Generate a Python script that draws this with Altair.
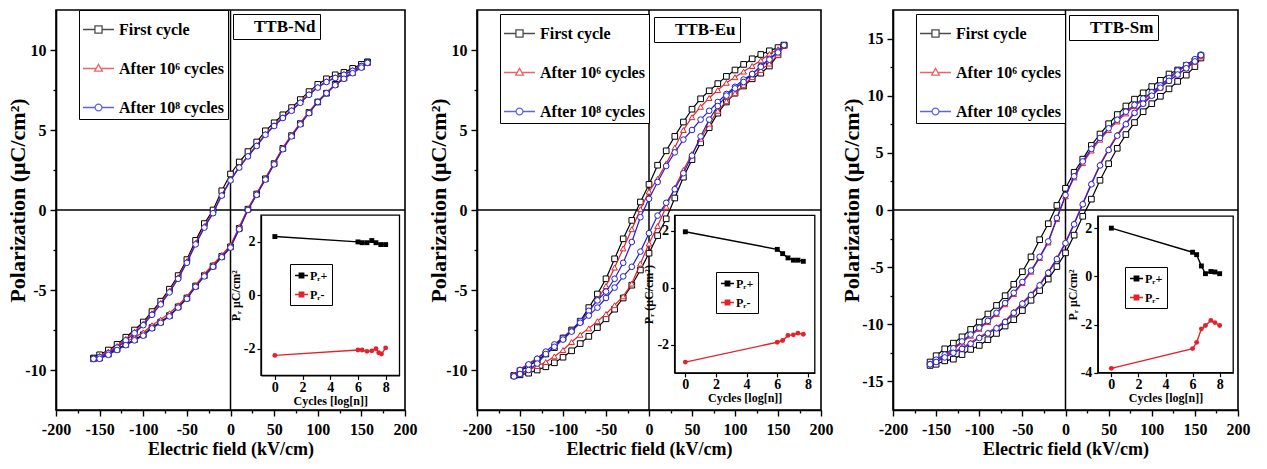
import altair as alt
import pandas as pd

FONT = "Liberation Serif"

# ---------------- data ----------------
E_GRID = [-157, -150, -140, -130, -120, -110, -100, -90, -80, -70, -60, -50, -40, -30, -20, -10,
          0, 10, 20, 30, 40, 50, 60, 70, 80, 90, 100, 110, 120, 130, 140, 150, 157]

SERIES = ["First cycle", "After 10⁶ cycles", "After 10⁸ cycles"]
SERIES_COLORS = ["#000000", "#e3232b", "#2222d4"]
SERIES_SHAPES = ["square", "triangle-up", "circle"]
SERIES_LEGEND_PATHS = [
    "M-1,0H-0.23M0.23,0H1M-0.23,-0.23H0.23V0.23H-0.23Z",
    "M-1,0H-0.15M0.15,0H1M0,-0.27L0.25,0.17H-0.25Z",
    "M-1,0H-0.22M0.22,0H1M0.22,0A0.22,0.22,0,1,1,-0.22,0A0.22,0.22,0,1,1,0.22,0Z",
]

PR_KINDS = ["Pᵣ+", "Pᵣ-"]
PR_COLORS = ["#000000", "#e3232b"]
PR_SHAPES = ["square", "circle"]
PR_LEGEND_PATH = "M-1,0H1M-0.34,-0.34H0.34V0.34H-0.34ZM-0.34,-0.17H0.34M-0.34,0.17H0.34"

# TTB-Nd : P on the decreasing-field branch (up) and increasing-field branch (lo), listed along E_GRID
ND_FIRST_UP = [-9.25, -9.05, -8.75, -8.4, -7.95, -7.5, -7.0, -6.35, -5.7, -4.95, -4.1, -3.1, -1.9, -0.85, 0.0, 1.2,
               2.25, 3.0, 3.65, 4.25, 4.95, 5.45, 5.95, 6.4, 6.9, 7.4, 7.85, 8.2, 8.45, 8.6, 8.85, 9.1, 9.25]
ND_FIRST_LO = [-9.3, -9.25, -9.0, -8.7, -8.4, -8.1, -7.8, -7.35, -7.0, -6.6, -6.05, -5.5, -4.75, -4.1, -3.5, -2.9,
               -2.3, -1.15, 0.05, 1.0, 1.95, 2.9, 3.85, 4.65, 5.4, 6.1, 6.75, 7.3, 7.85, 8.25, 8.6, 8.95, 9.25]
ND_E6_UP = [-9.3, -9.1, -8.85, -8.5, -8.05, -7.6, -7.1, -6.45, -5.8, -5.05, -4.2, -3.2, -2.05, -1.0, -0.15, 0.95,
            1.9, 2.7, 3.4, 4.05, 4.75, 5.3, 5.8, 6.25, 6.75, 7.25, 7.7, 8.05, 8.3, 8.5, 8.75, 9.05, 9.2]
ND_E6_LO = [-9.25, -9.2, -8.9, -8.55, -8.25, -7.95, -7.65, -7.2, -6.85, -6.45, -5.95, -5.4, -4.7, -4.0, -3.4, -2.8,
            -2.2, -1.05, 0.1, 1.05, 2.0, 2.95, 3.9, 4.7, 5.45, 6.15, 6.8, 7.35, 7.85, 8.25, 8.6, 8.95, 9.2]
ND_E8_UP = [-9.3, -9.2, -8.95, -8.6, -8.15, -7.7, -7.2, -6.55, -5.9, -5.15, -4.3, -3.3, -2.15, -1.1, -0.2, 0.9,
            1.85, 2.65, 3.35, 4.0, 4.7, 5.25, 5.75, 6.2, 6.7, 7.2, 7.65, 8.0, 8.25, 8.45, 8.7, 9.0, 9.2]
ND_E8_LO = [-9.3, -9.3, -9.05, -8.75, -8.45, -8.15, -7.85, -7.4, -7.05, -6.65, -6.1, -5.55, -4.8, -4.15, -3.55, -2.95,
            -2.35, -1.2, 0.0, 0.95, 1.9, 2.85, 3.8, 4.6, 5.35, 6.05, 6.75, 7.3, 7.8, 8.2, 8.55, 8.9, 9.2]

# TTB-Eu
EU_FIRST_UP = [-10.35, -10.05, -9.75, -9.4, -9.0, -8.6, -8.0, -7.5, -6.95, -6.1, -5.25, -4.3, -3.05, -1.8, -0.65, 0.5,
               1.6, 2.8, 3.7, 4.6, 5.5, 6.3, 6.95, 7.45, 7.9, 8.35, 8.75, 9.1, 9.45, 9.72, 9.95, 10.15, 10.3]
EU_FIRST_LO = [-10.35, -10.3, -10.2, -10.0, -9.8, -9.55, -9.2, -8.8, -8.35, -7.9, -7.35, -6.8, -6.2, -5.5, -4.7, -3.75,
               -2.7, -1.6, -0.55, 0.75, 2.05, 3.15, 4.2, 5.15, 6.05, 6.75, 7.3, 7.75, 8.2, 8.55, 9.0, 9.7, 10.3]
EU_E6_UP = [-10.3, -9.95, -9.6, -9.25, -8.85, -8.4, -7.95, -7.5, -7.0, -6.35, -5.6, -4.75, -3.6, -2.4, -1.2, 0.05,
            1.15, 1.95, 2.9, 3.9, 5.0, 5.8, 6.45, 7.0, 7.5, 7.95, 8.3, 8.65, 9.0, 9.35, 9.75, 10.05, 10.25]
EU_E6_LO = [-10.3, -10.2, -10.0, -9.75, -9.5, -9.15, -8.75, -8.25, -7.8, -7.4, -6.95, -6.5, -5.95, -5.4, -4.6, -3.35,
            -2.1, -1.0, 0.2, 1.4, 2.5, 3.5, 4.45, 5.4, 6.2, 6.8, 7.3, 7.8, 8.3, 8.75, 9.15, 9.7, 10.25]
EU_E8_UP = [-10.4, -10.0, -9.65, -9.3, -8.85, -8.4, -8.0, -7.55, -6.95, -6.3, -5.65, -5.1, -4.3, -3.3, -2.0, -0.45,
            0.7, 1.75, 2.75, 3.6, 4.4, 5.0, 5.65, 6.2, 6.75, 7.25, 7.7, 8.15, 8.5, 9.0, 9.45, 9.9, 10.3]
EU_E8_LO = [-10.4, -10.25, -10.0, -9.6, -9.0, -8.55, -8.1, -7.6, -7.05, -6.6, -6.1, -5.5, -4.85, -4.15, -3.55, -2.6,
            -1.45, -0.35, 0.45, 1.3, 2.3, 3.4, 4.6, 5.65, 6.5, 7.15, 7.6, 8.0, 8.5, 8.95, 9.4, 9.85, 10.3]

# TTB-Sm
SM_FIRST_UP = [-13.3, -12.75, -12.15, -11.65, -11.1, -10.45, -9.8, -9.1, -8.35, -7.5, -6.5, -5.4, -4.1, -2.6, -1.2, 0.4,
               1.9, 3.3, 4.45, 5.65, 6.65, 7.55, 8.35, 9.1, 9.7, 10.25, 10.8, 11.35, 11.9, 12.25, 12.65, 13.05, 13.5]
SM_FIRST_LO = [-13.6, -13.5, -13.2, -13.05, -12.65, -12.2, -11.85, -11.35, -10.8, -10.15, -9.6, -8.8, -7.9, -7.05, -6.05, -4.95,
               -3.75, -2.2, -0.55, 0.95, 2.6, 4.05, 5.4, 6.6, 7.65, 8.6, 9.3, 9.95, 10.6, 11.25, 11.8, 12.55, 13.3]
SM_E6_UP = [-13.45, -13.2, -12.75, -12.2, -11.6, -11.0, -10.4, -9.8, -9.1, -8.25, -7.35, -6.4, -5.4, -4.2, -2.85, -0.8,
            1.2, 2.85, 4.1, 5.2, 6.15, 7.0, 7.75, 8.45, 9.1, 9.65, 10.2, 10.8, 11.45, 12.1, 12.6, 13.1, 13.45]
SM_E6_LO = [-13.4, -13.2, -12.8, -12.4, -12.05, -11.6, -11.1, -10.7, -10.25, -9.7, -8.9, -8.1, -7.35, -6.5, -5.4, -4.2,
            -2.8, -1.15, 0.6, 2.35, 4.0, 5.35, 6.6, 7.6, 8.55, 9.35, 10.05, 10.7, 11.3, 11.85, 12.4, 12.95, 13.45]
SM_E8_UP = [-13.5, -13.1, -12.65, -12.1, -11.5, -10.9, -10.3, -9.7, -9.0, -8.15, -7.25, -6.3, -5.3, -4.1, -2.75, -0.7,
            1.3, 2.95, 4.25, 5.35, 6.3, 7.15, 7.9, 8.6, 9.2, 9.75, 10.3, 10.9, 11.55, 12.2, 12.7, 13.2, 13.6]
SM_E8_LO = [-13.5, -13.3, -12.9, -12.5, -12.15, -11.7, -11.2, -10.8, -10.35, -9.8, -9.0, -8.2, -7.45, -6.6, -5.5, -4.3,
            -2.9, -1.25, 0.5, 2.25, 3.9, 5.25, 6.5, 7.5, 8.5, 9.3, 10.0, 10.7, 11.3, 11.85, 12.4, 13.0, 13.55]

# Insets: remanent polarization vs log(cycles)
ND_PRP_N = [0, 6.0, 6.3, 6.65, 7.0, 7.3, 7.65, 8.0]
ND_PRP = [2.2, 2.0, 1.97, 1.97, 2.05, 1.97, 1.9, 1.9]
ND_PRM_N = [0, 6.0, 6.3, 6.65, 7.0, 7.3, 7.5, 7.7, 8.0]
ND_PRM = [-2.25, -2.05, -2.05, -2.1, -2.08, -2.0, -2.15, -2.2, -1.97]

EU_PR_N = [0, 6.0, 6.35, 6.7, 7.05, 7.35, 7.7]
EU_PRP = [1.97, 1.35, 1.2, 1.05, 0.97, 0.97, 0.93]
EU_PRM = [-2.62, -1.92, -1.86, -1.68, -1.66, -1.6, -1.64]

SM_PR_N = [0, 6.0, 6.3, 6.65, 6.95, 7.35, 7.65, 8.0]
SM_PRP = [2.0, 1.0, 0.9, 0.43, 0.11, 0.2, 0.18, 0.11]
SM_PRM = [-3.82, -3.0, -2.74, -2.18, -2.04, -1.83, -1.92, -2.04]

X_TICKS = [-200, -150, -100, -50, 0, 50, 100, 150, 200]
X_MINOR = [-175, -125, -75, -25, 25, 75, 125, 175]
H = 400
LBL = "'' + datum.value"
TXT = dict(labelFont=FONT, labelFontWeight="bold", labelColor="black",
           titleFont=FONT, titleFontWeight="bold", titleColor="black",
           domainColor="black", tickColor="black", grid=False)


def loop_df(up, lo, series):
    rows = []
    i = 0
    for e, p in zip(reversed(E_GRID), reversed(up)):
        rows.append({"E": e, "P": p, "series": series, "idx": i})
        i += 1
    for e, p in zip(E_GRID, lo):
        rows.append({"E": e, "P": p, "series": series, "idx": i})
        i += 1
    return pd.DataFrame(rows)


def pr_df(np_, vp, nm, vm):
    rows = []
    for i, (n, v) in enumerate(zip(np_, vp)):
        rows.append({"n": n, "pr": v, "kind": PR_KINDS[0], "idx": i})
    for i, (n, v) in enumerate(zip(nm, vm)):
        rows.append({"n": n, "pr": v, "kind": PR_KINDS[1], "idx": i})
    return pd.DataFrame(rows)


def make_panel(cfg):
    W = cfg["W"]
    curves = pd.concat([loop_df(u, l, s) for (u, l), s in zip(cfg["loops"], SERIES)], ignore_index=True)

    def xs():
        return alt.Scale(domain=[-200, 200], nice=False, zero=False)

    def ys():
        return alt.Scale(domain=cfg["ydom"], nice=False, zero=False)

    def cs():
        return alt.Scale(domain=SERIES, range=SERIES_COLORS)

    x_axis = alt.Axis(orient="bottom", values=X_TICKS, labelExpr=LBL, tickSize=6, tickWidth=1.4,
                      domainWidth=1.6, labelFontSize=16, labelPadding=5, labelFlush=False,
                      labelOverlap=False, title="Electric field (kV/cm)", titleFontSize=18,
                      titlePadding=3, **TXT)
    y_axis = alt.Axis(orient="left", values=cfg["yticks"], labelExpr=LBL, tickSize=6, tickWidth=1.4,
                      domainWidth=1.6, labelFontSize=16, labelPadding=4, labelFlush=False,
                      labelOverlap=False, title="Polarization (μC/cm²)", titleFontSize=22,
                      titleX=cfg["ytitle_x"], titleY=190, **TXT)

    one = pd.DataFrame({"z": [0]})
    layers = []
    layers.append(alt.Chart(one).mark_rule(color="black", strokeWidth=1.5).encode(
        x=alt.X("z:Q", scale=xs(), axis=alt.Axis(orient="bottom", values=X_MINOR, labels=False,
                                                   domain=False, tickSize=3, tickWidth=1.3,
                                                   title=None, tickColor="black", grid=False))))
    layers.append(alt.Chart(one).mark_rule(color="black", strokeWidth=1.5).encode(
        y=alt.Y("z:Q", scale=ys(), axis=alt.Axis(orient="left", values=cfg["yminor"], labels=False,
                                                   domain=False, tickSize=3, tickWidth=1.3,
                                                   title=None, tickColor="black", grid=False))))

    for i, s in enumerate(SERIES):
        b = alt.Chart(curves).transform_filter(alt.datum.series == s)
        layers.append(b.mark_line(strokeWidth=1.2).encode(
            x=alt.X("E:Q", scale=xs(), axis=x_axis if i == 0 else None),
            y=alt.Y("P:Q", scale=ys(), axis=y_axis if i == 0 else None),
            color=alt.Color("series:N", scale=cs(), legend=None),
            order=alt.Order("idx:Q"),
        ))
        layers.append(b.mark_point(shape=SERIES_SHAPES[i], filled=False, fill="white", size=32,
                                   strokeWidth=1, opacity=1).encode(
            x=alt.X("E:Q", scale=xs(), axis=None),
            y=alt.Y("P:Q", scale=ys(), axis=None),
            color=alt.Color("series:N", scale=cs(), legend=None),
        ))

    sleg = dict(title=None, orient="none", legendX=cfg["sleg"][0], legendY=cfg["sleg"][1],
                strokeColor="black", fillColor="white", padding=3, rowPadding=14,
                symbolSize=961, symbolStrokeWidth=1.3, labelOffset=4, labelFont=FONT,
                labelFontSize=16, labelFontWeight="bold", labelColor="black", labelLimit=300)
    layers.append(alt.Chart(curves).transform_filter("false").mark_point(filled=False, strokeWidth=1.3).encode(
        x=alt.X("E:Q", scale=xs(), axis=None),
        y=alt.Y("P:Q", scale=ys(), axis=None),
        color=alt.Color("series:N", scale=cs(), legend=alt.Legend(**sleg)),
        shape=alt.Shape("series:N", scale=alt.Scale(domain=SERIES, range=SERIES_LEGEND_PATHS),
                        legend=alt.Legend(**sleg)),
    ))
    name_df = pd.DataFrame({"E": [0], "P": [0], "name": [cfg["name"]]})
    layers.append(alt.Chart(name_df).mark_point(opacity=0).encode(
        x=alt.X("E:Q", scale=xs(), axis=None),
        y=alt.Y("P:Q", scale=ys(), axis=None),
        strokeDash=alt.StrokeDash("name:N", legend=alt.Legend(
            title=None, orient="none", legendX=cfg["nleg"][0], legendY=cfg["nleg"][1],
            strokeColor="black", fillColor="white", padding=4, symbolType="circle", symbolSize=0,
            symbolStrokeWidth=0, symbolStrokeColor="white", symbolFillColor="white",
            symbolOpacity=0, labelOffset=0, labelFont=FONT, labelFontSize=17,
            labelFontWeight="bold", labelColor="black")),
    ))

    # inset
    def ixs():
        return alt.Scale(domain=cfg["ixdom"], range=cfg["ixrange"], nice=False, zero=False)

    def iys():
        return alt.Scale(domain=cfg["iydom"], range=cfg["iyrange"], nice=False, zero=False)

    def ics():
        return alt.Scale(domain=PR_KINDS, range=PR_COLORS)

    frame_df = pd.DataFrame({"x0": [cfg["ixdom"][0]], "x1": [cfg["ixdom"][1]],
                             "y0": [cfg["iydom"][0]], "y1": [cfg["iydom"][1]]})
    ix_axis = alt.Axis(orient="bottom", offset=cfg["iyrange"][0] - H, values=[0, 2, 4, 6, 8],
                       labelExpr=LBL, zindex=2, tickSize=4, tickWidth=1.2, domainWidth=1.3,
                       labelFontSize=14, labelPadding=1, labelFlush=False,
                       title="Cycles [log[n]]", titleFontSize=12, titlePadding=1, **TXT)
    iy_axis = alt.Axis(orient="left", offset=-cfg["ixrange"][0], values=cfg["iyticks"],
                       labelExpr=LBL, zindex=2, tickSize=4, tickWidth=1.2, domainWidth=1.3,
                       labelFontSize=14, labelPadding=2, labelFlush=False,
                       title=cfg["iytitle"], titleFontSize=12, titlePadding=1, **TXT)
    layers.append(alt.Chart(frame_df).mark_rect(fill="white", stroke="black", strokeWidth=1.3).encode(
        x=alt.X("x0:Q", scale=ixs(), axis=ix_axis), x2="x1:Q",
        y=alt.Y("y0:Q", scale=iys(), axis=iy_axis), y2="y1:Q"))

    prd = cfg["pr"]
    for k, shp in zip(PR_KINDS, PR_SHAPES):
        b = alt.Chart(prd).transform_filter(alt.datum.kind == k)
        layers.append(b.mark_line(strokeWidth=1.4).encode(
            x=alt.X("n:Q", scale=ixs(), axis=None), y=alt.Y("pr:Q", scale=iys(), axis=None),
            color=alt.Color("kind:N", scale=ics(), legend=None), order=alt.Order("idx:Q")))
        layers.append(b.mark_point(shape=shp, filled=True, size=24, opacity=1).encode(
            x=alt.X("n:Q", scale=ixs(), axis=None), y=alt.Y("pr:Q", scale=iys(), axis=None),
            color=alt.Color("kind:N", scale=ics(), legend=None)))
    layers.append(alt.Chart(prd).transform_filter("false").mark_point(filled=False, strokeWidth=1.4).encode(
        x=alt.X("n:Q", scale=ixs(), axis=None), y=alt.Y("pr:Q", scale=iys(), axis=None),
        color=alt.Color("kind:N", scale=ics(), legend=alt.Legend(
            title=None, orient="none", legendX=cfg["ileg"][0], legendY=cfg["ileg"][1],
            strokeColor="black", fillColor="white", padding=4, rowPadding=5,
            symbolType=PR_LEGEND_PATH, symbolSize=169, symbolStrokeWidth=1.4,
            symbolFillColor="transparent", symbolOpacity=1, labelOffset=1, labelFont=FONT,
            labelFontSize=12, labelFontWeight="bold", labelColor="black")),
    ))

    return alt.layer(*layers).resolve_scale(
        x="independent", y="independent", color="independent", shape="independent",
        strokeDash="independent"
    ).properties(width=W, height=H, view=alt.ViewBackground(stroke="black", strokeWidth=1.6))


p1 = make_panel(dict(
    W=349, name="TTB-Nd", ydom=[-12.5, 12.5], yticks=[-10, -5, 0, 5, 10], yminor=[-7.5, -2.5, 2.5, 7.5],
    ytitle_x=-27, loops=[(ND_FIRST_UP, ND_FIRST_LO), (ND_E6_UP, ND_E6_LO), (ND_E8_UP, ND_E8_LO)],
    sleg=(23, 0), nleg=(177, 4), ileg=(234, 254),
    ixdom=[-1, 9], ixrange=[205, 343.5], iydom=[-3, 3], iyrange=[365.4, 205.2], iyticks=[-2, 0, 2],
    iytitle="Pᵣ μC/cm²", pr=pr_df(ND_PRP_N, ND_PRP, ND_PRM_N, ND_PRM)))
p2 = make_panel(dict(
    W=344, name="TTB-Eu", ydom=[-12.5, 12.5], yticks=[-10, -5, 0, 5, 10], yminor=[-7.5, -2.5, 2.5, 7.5],
    ytitle_x=-27, loops=[(EU_FIRST_UP, EU_FIRST_LO), (EU_E6_UP, EU_E6_LO), (EU_E8_UP, EU_E8_LO)],
    sleg=(23, 4), nleg=(177, 7), ileg=(239, 262),
    ixdom=[-0.7, 8.45], ixrange=[197.6, 337.8], iydom=[-3, 2.55], iyrange=[362.9, 205.3], iyticks=[-2, 0, 2],
    iytitle="Pᵣ (μC/cm²)", pr=pr_df(EU_PR_N, EU_PRP, EU_PR_N, EU_PRM)))
p3 = make_panel(dict(
    W=345, name="TTB-Sm", ydom=[-17.5, 17.5], yticks=[-15, -10, -5, 0, 5, 10, 15],
    yminor=[-12.5, -7.5, -2.5, 2.5, 7.5, 12.5],
    ytitle_x=-30, loops=[(SM_FIRST_UP, SM_FIRST_LO), (SM_E6_UP, SM_E6_LO), (SM_E8_UP, SM_E8_LO)],
    sleg=(23, 4), nleg=(176, 5), ileg=(232, 257),
    ixdom=[-1, 9], ixrange=[204.8, 340.2], iydom=[-4, 2.5], iyrange=[362.7, 206.1], iyticks=[-4, -2, 0, 2],
    iytitle="Pᵣ μC/cm²", pr=pr_df(SM_PR_N, SM_PRP, SM_PR_N, SM_PRM)))

chart = alt.hconcat(p1, p2, p3, spacing=72, bounds="flush").resolve_scale(
    color="independent", shape="independent", strokeDash="independent"
).properties(
    padding={"left": 5, "top": 8, "right": 2, "bottom": 2}, background="white"
).configure_view(
    stroke="black", strokeWidth=1.6
).configure_axis(
    labelFont=FONT, titleFont=FONT, labelFontWeight="bold", titleFontWeight="bold",
    labelColor="black", titleColor="black", domainColor="black", tickColor="black", grid=False
)

chart.save("out.html", embed_options={"renderer": "svg", "actions": False})
